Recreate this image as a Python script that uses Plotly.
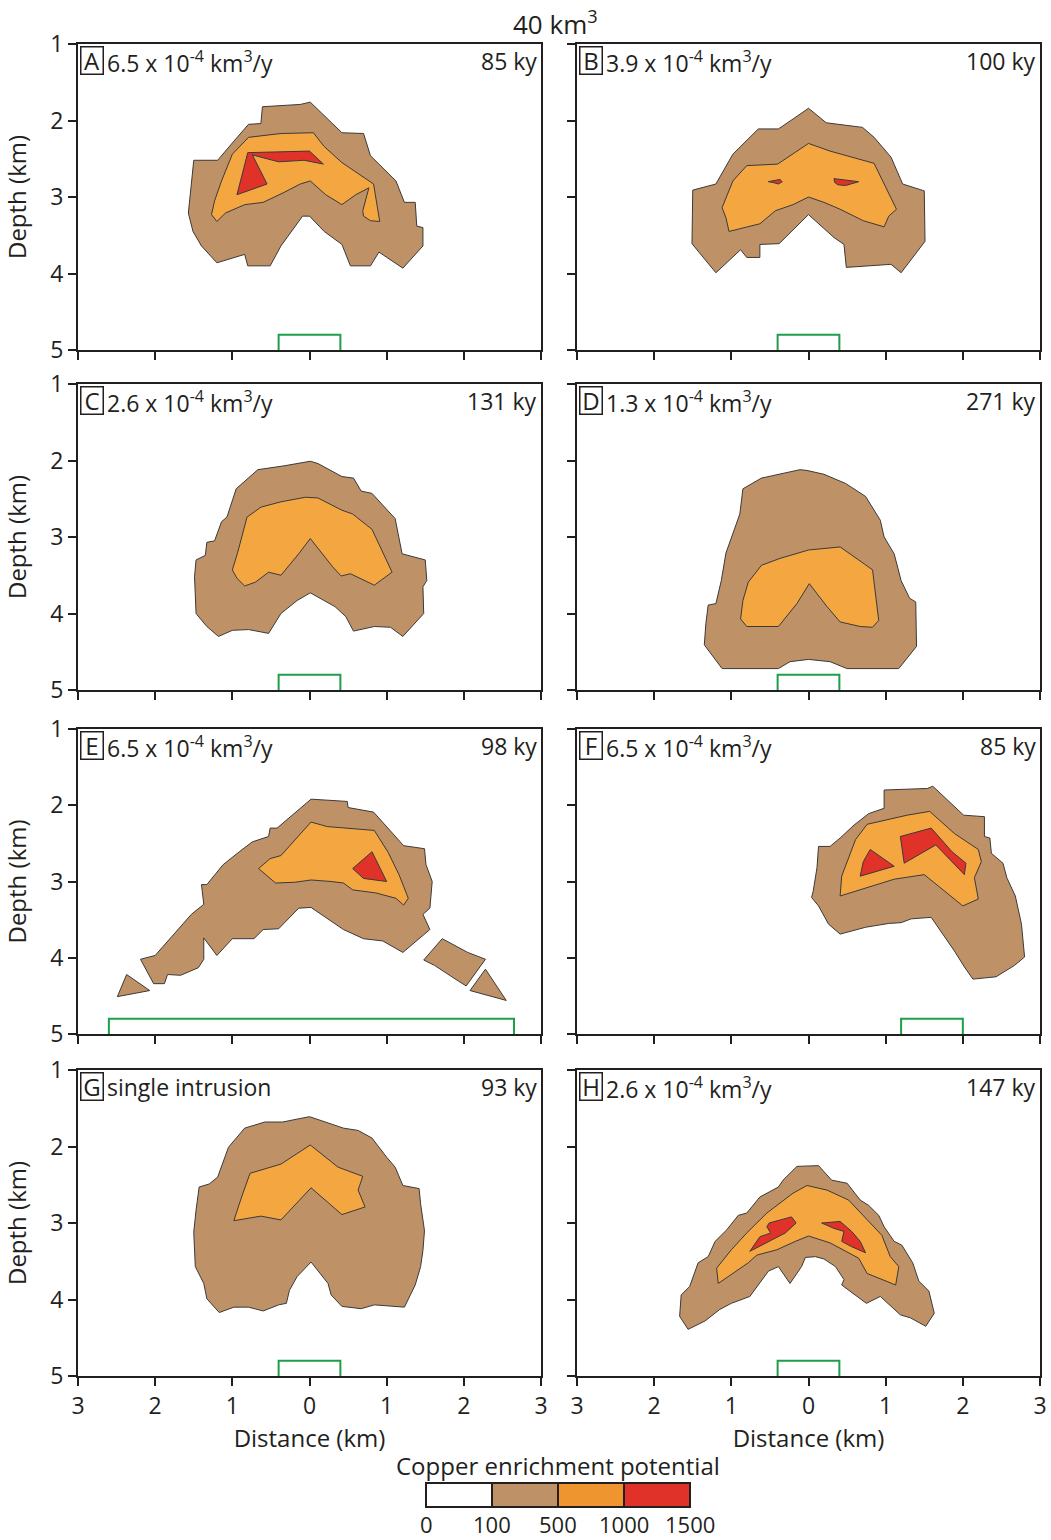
import plotly.graph_objects as go

# ---------------- data ----------------
LETTERS = ["A", "B", "C", "D", "E", "F", "G", "H"]
RATES = ["6.5 x 10<sup>-4</sup> km<sup>3</sup>/y", "3.9 x 10<sup>-4</sup> km<sup>3</sup>/y",
         "2.6 x 10<sup>-4</sup> km<sup>3</sup>/y", "1.3 x 10<sup>-4</sup> km<sup>3</sup>/y",
         "6.5 x 10<sup>-4</sup> km<sup>3</sup>/y", "6.5 x 10<sup>-4</sup> km<sup>3</sup>/y",
         "single intrusion", "2.6 x 10<sup>-4</sup> km<sup>3</sup>/y"]
AGES = ["85 ky", "100 ky", "131 ky", "271 ky", "98 ky", "85 ky", "93 ky", "147 ky"]
INTRUSION_X = [(-0.4, 0.4), (-0.4, 0.4), (-0.4, 0.4), (-0.4, 0.4),
               (-2.6, 2.65), (1.2, 2.0), (-0.4, 0.4), (-0.4, 0.4)]
INTRUSION_TOP = 4.8

LEVELS = [0, 100, 500, 1000, 1500]
LEVEL_COLORS = ["#FFFFFF", "#BF9167", "#F4A640", "#E1322A"]
LEGEND_COLORS = ["#FFFFFF", "#BF9167", "#EF9530", "#E1322A"]

X_TICKS = [-3, -2, -1, 0, 1, 2, 3]
X_TICKTEXT = ["3", "2", "1", "0", "1", "2", "3"]
Y_TICKS = [1, 2, 3, 4, 5]

# polygons: (distance km, depth km)
A_100 = [(-0.61, 1.82), (-0.12, 1.79), (0.01, 1.76), (0.42, 2.16), (0.70, 2.17), (0.79, 2.46), (1.12, 2.79),
         (1.23, 3.07), (1.37, 3.07), (1.39, 3.38), (1.47, 3.40), (1.47, 3.64), (1.21, 3.93), (0.90, 3.72),
         (0.79, 3.90), (0.53, 3.90), (0.42, 3.62), (0.19, 3.45), (0.00, 3.25), (-0.09, 3.25), (-0.37, 3.64),
         (-0.51, 3.90), (-0.80, 3.90), (-0.84, 3.75), (-1.20, 3.86), (-1.40, 3.64), (-1.51, 3.45),
         (-1.57, 3.21), (-1.50, 2.52), (-1.19, 2.52), (-0.98, 2.27), (-0.79, 2.05), (-0.63, 2.04)]
A_500 = [(-0.79, 2.22), (-0.37, 2.17), (0.05, 2.16), (0.19, 2.34), (0.42, 2.55), (0.72, 2.75), (0.83, 2.83),
         (0.91, 3.32), (0.79, 3.31), (0.70, 3.25), (0.69, 3.18), (0.77, 2.88), (0.60, 2.97), (0.42, 3.10),
         (0.21, 2.97), (0.01, 2.79), (-0.12, 2.83), (-0.33, 2.94), (-0.60, 3.07), (-0.84, 3.10),
         (-1.09, 3.21), (-1.20, 3.32), (-1.27, 3.23), (-1.23, 3.05), (-1.14, 2.79), (-1.00, 2.44)]
A_1000 = [(-0.80, 2.42), (0.00, 2.40), (0.18, 2.57), (-0.07, 2.52), (-0.40, 2.54), (-0.74, 2.45),
          (-0.55, 2.83), (-0.94, 2.97)]

B_100 = [(0.00, 1.84), (0.23, 2.03), (0.70, 2.09), (0.85, 2.22), (1.07, 2.48), (1.22, 2.83), (1.50, 2.92),
         (1.51, 3.58), (1.20, 3.99), (1.07, 3.88), (0.49, 3.92), (0.46, 3.62), (0.33, 3.53), (0.00, 3.23),
         (-0.38, 3.61), (-0.63, 3.62), (-0.63, 3.79), (-0.80, 3.79), (-0.88, 3.69), (-1.20, 3.99),
         (-1.51, 3.61), (-1.50, 2.91), (-1.20, 2.83), (-0.98, 2.44), (-0.65, 2.11), (-0.39, 2.11),
         (-0.20, 1.98)]
B_500 = [(0.00, 2.30), (0.28, 2.40), (0.85, 2.56), (1.00, 2.88), (1.14, 3.16), (1.04, 3.25), (0.98, 3.39),
         (0.71, 3.31), (0.41, 3.16), (0.20, 3.07), (0.00, 3.00), (-0.20, 3.10), (-0.43, 3.18), (-0.63, 3.35),
         (-1.03, 3.45), (-1.07, 3.27), (-1.12, 3.14), (-0.98, 2.79), (-0.80, 2.59), (-0.40, 2.57),
         (-0.20, 2.43)]
B_1000a = [(-0.52, 2.80), (-0.37, 2.77), (-0.34, 2.80), (-0.39, 2.83), (-0.46, 2.81)]
B_1000b = [(0.33, 2.76), (0.65, 2.80), (0.48, 2.85), (0.38, 2.84), (0.34, 2.81)]

C_100 = [(0.01, 2.01), (0.11, 2.04), (0.42, 2.21), (0.57, 2.23), (0.67, 2.40), (0.81, 2.43), (1.11, 2.76),
         (1.20, 3.22), (1.50, 3.30), (1.52, 3.57), (1.47, 3.65), (1.48, 4.00), (1.21, 4.30), (1.05, 4.18),
         (0.84, 4.17), (0.57, 4.23), (0.47, 4.04), (0.33, 3.91), (0.01, 3.73), (-0.16, 3.83), (-0.37, 4.00),
         (-0.53, 4.26), (-0.79, 4.21), (-1.00, 4.22), (-1.18, 4.30), (-1.33, 4.17), (-1.47, 4.00),
         (-1.49, 3.52), (-1.47, 3.30), (-1.35, 3.24), (-1.33, 3.07), (-1.23, 3.05), (-1.14, 2.80),
         (-1.07, 2.74), (-0.95, 2.37), (-0.67, 2.12), (-0.33, 2.07)]
C_500 = [(-0.05, 2.48), (0.11, 2.49), (0.42, 2.65), (0.56, 2.70), (0.81, 2.90), (1.07, 3.46), (0.84, 3.63),
         (0.53, 3.48), (0.41, 3.51), (0.30, 3.39), (0.01, 3.02), (-0.14, 3.22), (-0.37, 3.50), (-0.53, 3.46),
         (-0.70, 3.59), (-0.84, 3.64), (-0.94, 3.54), (-1.00, 3.43), (-0.93, 3.20), (-0.81, 2.74),
         (-0.63, 2.61), (-0.37, 2.54)]

D_100 = [(-0.11, 2.12), (-0.02, 2.13), (0.20, 2.18), (0.48, 2.30), (0.74, 2.47), (0.93, 2.78), (0.98, 3.00),
         (1.11, 3.22), (1.20, 3.57), (1.31, 3.80), (1.39, 3.85), (1.40, 4.43), (1.17, 4.72), (0.50, 4.72),
         (0.28, 4.63), (0.00, 4.60), (-0.24, 4.63), (-0.39, 4.72), (-1.12, 4.72), (-1.35, 4.41),
         (-1.33, 4.13), (-1.30, 3.89), (-1.20, 3.87), (-1.13, 3.57), (-1.07, 3.21), (-1.00, 3.02),
         (-0.89, 2.70), (-0.85, 2.37), (-0.61, 2.23)]
D_500 = [(0.00, 3.17), (0.41, 3.13), (0.72, 3.35), (0.83, 3.43), (0.91, 4.09), (0.83, 4.18), (0.67, 4.17),
         (0.41, 4.11), (0.24, 3.91), (0.01, 3.61), (-0.15, 3.87), (-0.39, 4.17), (-0.80, 4.17), (-0.88, 4.07),
         (-0.85, 3.83), (-0.78, 3.59), (-0.61, 3.37), (-0.37, 3.28)]

E_100 = [(0.02, 1.92), (0.49, 1.95), (0.50, 2.03), (0.83, 2.09), (1.22, 2.53), (1.49, 2.57), (1.51, 2.78),
         (1.59, 3.00), (1.56, 3.35), (1.47, 3.43), (1.56, 3.63), (1.21, 3.93), (0.95, 3.78), (0.70, 3.75),
         (0.44, 3.63), (0.02, 3.34), (-0.14, 3.35), (-0.40, 3.62), (-0.60, 3.63), (-0.72, 3.75),
         (-1.00, 3.75), (-1.20, 3.97), (-1.37, 3.74), (-1.37, 4.02), (-1.44, 4.13), (-1.67, 4.23),
         (-1.84, 4.22), (-1.88, 4.34), (-2.02, 4.34), (-2.19, 4.02), (-2.00, 3.97), (-1.53, 3.43),
         (-1.37, 3.30), (-1.40, 3.04), (-1.33, 3.04), (-1.12, 2.78), (-0.91, 2.61), (-0.74, 2.48),
         (-0.53, 2.41), (-0.51, 2.30), (-0.42, 2.30)]
E_100b = [(-2.49, 4.51), (-2.37, 4.22), (-2.07, 4.43)]
E_100c = [(1.72, 3.75), (2.05, 3.93), (2.28, 4.02), (2.03, 4.37), (1.86, 4.26), (1.62, 4.10), (1.48, 4.03)]
E_100d = [(2.08, 4.43), (2.28, 4.15), (2.55, 4.56)]
E_500 = [(0.02, 2.22), (0.23, 2.28), (0.84, 2.33), (1.02, 2.62), (1.16, 2.91), (1.28, 3.22), (1.22, 3.31),
         (1.12, 3.22), (0.86, 3.15), (0.56, 3.11), (0.44, 3.02), (0.28, 3.00), (0.02, 2.98), (-0.19, 3.01),
         (-0.44, 3.02), (-0.66, 2.83), (-0.51, 2.70), (-0.37, 2.66)]
E_1000 = [(0.81, 2.61), (1.00, 3.00), (0.70, 2.96), (0.56, 2.83)]

F_100 = [(0.98, 1.80), (1.54, 1.78), (1.61, 1.75), (2.01, 2.13), (2.28, 2.15), (2.28, 2.41), (2.35, 2.43),
         (2.37, 2.63), (2.52, 2.76), (2.57, 2.95), (2.68, 3.19), (2.76, 3.56), (2.80, 3.99), (2.67, 4.10),
         (2.43, 4.25), (2.13, 4.28), (2.02, 4.12), (1.89, 3.91), (1.59, 3.47), (1.33, 3.49), (1.20, 3.54),
         (1.04, 3.55), (0.74, 3.60), (0.41, 3.69), (0.26, 3.56), (0.13, 3.32), (0.04, 3.21), (0.06, 3.13),
         (0.11, 2.82), (0.13, 2.54), (0.28, 2.54), (0.41, 2.43), (0.59, 2.26), (0.78, 2.11), (0.98, 2.04)]
F_500 = [(0.76, 2.25), (1.28, 2.13), (1.57, 2.08), (1.89, 2.37), (2.20, 2.58), (2.24, 2.74), (2.15, 2.95),
         (2.20, 3.23), (2.00, 3.32), (1.50, 2.91), (1.11, 2.97), (0.41, 3.19), (0.43, 2.93), (0.52, 2.69),
         (0.61, 2.45)]
F_1000a = [(0.80, 2.58), (1.11, 2.80), (0.67, 2.93), (0.71, 2.74)]
F_1000b = [(1.19, 2.41), (1.59, 2.30), (1.86, 2.61), (2.04, 2.76), (2.02, 2.91), (1.65, 2.52), (1.24, 2.76)]

G_100 = [(0.00, 1.61), (0.44, 1.76), (0.63, 1.79), (0.81, 1.89), (1.00, 2.14), (1.11, 2.27), (1.21, 2.51),
         (1.42, 2.55), (1.44, 2.75), (1.49, 3.10), (1.47, 3.36), (1.44, 3.57), (1.37, 3.81), (1.23, 4.10),
         (0.84, 4.07), (0.67, 4.12), (0.42, 4.09), (0.28, 3.94), (0.24, 3.79), (0.02, 3.51), (-0.16, 3.70),
         (-0.26, 3.88), (-0.30, 4.05), (-0.40, 4.07), (-0.60, 4.15), (-0.79, 4.10), (-0.98, 4.10),
         (-1.17, 4.17), (-1.33, 3.99), (-1.37, 3.79), (-1.48, 3.57), (-1.50, 3.12), (-1.47, 2.83),
         (-1.43, 2.53), (-1.30, 2.49), (-1.19, 2.40), (-1.05, 2.01), (-0.84, 1.76), (-0.58, 1.68),
         (-0.35, 1.68)]
G_500 = [(0.01, 1.98), (0.37, 2.27), (0.69, 2.39), (0.63, 2.57), (0.72, 2.79), (0.42, 2.89), (0.02, 2.54),
         (-0.37, 2.96), (-0.63, 2.91), (-0.98, 2.97), (-0.88, 2.66), (-0.77, 2.35), (-0.37, 2.23)]

H_100 = [(-0.15, 2.26), (0.13, 2.25), (0.30, 2.44), (0.50, 2.48), (0.67, 2.70), (0.78, 2.77), (0.91, 2.90),
         (0.98, 3.05), (1.11, 3.24), (1.21, 3.29), (1.35, 3.52), (1.43, 3.76), (1.56, 3.89), (1.63, 4.18),
         (1.52, 4.35), (1.32, 4.24), (1.19, 4.20), (0.93, 3.96), (0.75, 4.05), (0.43, 3.81), (0.46, 3.74),
         (0.35, 3.57), (0.20, 3.47), (0.09, 3.44), (-0.04, 3.45), (-0.09, 3.57), (-0.24, 3.79),
         (-0.39, 3.57), (-0.52, 3.63), (-0.76, 3.96), (-1.00, 4.05), (-1.15, 4.13), (-1.34, 4.28),
         (-1.56, 4.39), (-1.67, 4.22), (-1.65, 3.94), (-1.54, 3.83), (-1.43, 3.52), (-1.30, 3.44),
         (-1.21, 3.24), (-1.06, 3.09), (-0.91, 2.90), (-0.80, 2.87), (-0.63, 2.66), (-0.39, 2.53),
         (-0.33, 2.44)]
H_500 = [(-0.02, 2.51), (0.24, 2.57), (0.52, 2.70), (0.76, 2.96), (0.95, 3.16), (1.06, 3.44), (1.17, 3.57),
         (1.13, 3.81), (0.76, 3.66), (0.65, 3.46), (0.28, 3.26), (0.00, 3.17), (-0.17, 3.24), (-0.41, 3.35),
         (-0.67, 3.42), (-0.78, 3.52), (-1.17, 3.79), (-1.19, 3.59), (-1.00, 3.35), (-0.80, 3.13),
         (-0.54, 2.87), (-0.20, 2.61)]
H_1000a = [(-0.51, 3.00), (-0.22, 2.92), (-0.16, 3.00), (-0.30, 3.13), (-0.76, 3.37), (-0.63, 3.18),
           (-0.49, 3.13), (-0.54, 3.05)]
H_1000b = [(0.17, 3.00), (0.41, 2.98), (0.56, 3.11), (0.67, 3.24), (0.74, 3.39), (0.56, 3.31), (0.43, 3.24),
           (0.46, 3.11), (0.33, 3.07)]

# (level index into LEVEL_COLORS, polygon)
PANEL_POLYS = [
    [(1, A_100), (2, A_500), (3, A_1000)],
    [(1, B_100), (2, B_500), (3, B_1000a), (3, B_1000b)],
    [(1, C_100), (2, C_500)],
    [(1, D_100), (2, D_500)],
    [(1, E_100), (1, E_100b), (1, E_100c), (1, E_100d), (2, E_500), (3, E_1000)],
    [(1, F_100), (2, F_500), (3, F_1000a), (3, F_1000b)],
    [(1, G_100), (2, G_500)],
    [(1, H_100), (2, H_500), (3, H_1000a), (3, H_1000b)],
]

# ---------------- layout geometry ----------------
W, H = 1051, 1540
COL_PX = [(78, 541), (577, 1040)]
ROW_PX = [(44, 350), (384, 690), (729, 1034), (1070, 1376)]
FONT = "Open Sans"
INK = "#231F20"


def px_x(p):
    return p / W


def px_y(p):
    return 1 - p / H


fig = go.Figure()
layout = dict(width=W, height=H, margin=dict(l=0, r=0, t=0, b=0),
              paper_bgcolor="white", plot_bgcolor="white", showlegend=False,
              font=dict(family=FONT, color=INK))
annotations = []
shapes = []

for i in range(8):
    r, c = divmod(i, 2)
    n = "" if i == 0 else str(i + 1)
    xa, ya = "x" + n, "y" + n
    x0p, x1p = COL_PX[c]
    y0p, y1p = ROW_PX[r]
    layout["xaxis" + n] = dict(
        domain=[px_x(x0p), px_x(x1p)], anchor=ya, range=[-3, 3],
        tickmode="array", tickvals=X_TICKS, ticktext=X_TICKTEXT,
        showticklabels=(r == 3), ticks="outside", ticklen=8, tickwidth=2, tickcolor=INK,
        showline=True, linewidth=2, linecolor=INK, mirror=True, showgrid=False, zeroline=False,
        tickfont=dict(size=23), automargin=False,
        title=dict(text="Distance (km)" if r == 3 else "", font=dict(size=24), standoff=2),
    )
    layout["yaxis" + n] = dict(
        domain=[px_y(y1p), px_y(y0p)], anchor=xa, range=[5, 1],
        tickmode="array", tickvals=Y_TICKS,
        showticklabels=(c == 0), ticks="outside", ticklen=8, tickwidth=2, tickcolor=INK,
        showline=True, linewidth=2, linecolor=INK, mirror=True, showgrid=False, zeroline=False,
        tickfont=dict(size=23), automargin=False,
        title=dict(text="Depth (km)" if c == 0 else "", font=dict(size=24), standoff=18),
    )
    for lvl, poly in PANEL_POLYS[i]:
        xs = [p[0] for p in poly] + [poly[0][0]]
        ds = [p[1] for p in poly] + [poly[0][1]]
        fig.add_trace(go.Scatter(x=xs, y=ds, xaxis=xa, yaxis=ya, mode="lines", fill="toself",
                                 fillcolor=LEVEL_COLORS[lvl], line=dict(color="#3A3A3A", width=1),
                                 hoverinfo="skip"))
    ix0, ix1 = INTRUSION_X[i]
    fig.add_trace(go.Scatter(x=[ix0, ix0, ix1, ix1], y=[5, INTRUSION_TOP, INTRUSION_TOP, 5],
                             xaxis=xa, yaxis=ya, mode="lines",
                             line=dict(color="#1E9E4A", width=2), hoverinfo="skip", cliponaxis=False))
    # panel labels
    annotations.append(dict(xref=xa + " domain", yref=ya + " domain", x=0.004, y=0.992,
                            xanchor="left", yanchor="top", text=LETTERS[i], showarrow=False,
                            width=21, height=26, align="center", valign="middle",
                            font=dict(size=24), bordercolor=INK, borderwidth=1.5, borderpad=0))
    annotations.append(dict(xref=xa + " domain", yref=ya + " domain", x=0.059, y=1.003,
                            xanchor="left", yanchor="top", text=RATES[i], showarrow=False,
                            font=dict(size=23)))
    annotations.append(dict(xref=xa + " domain", yref=ya + " domain", x=0.995, y=1.003,
                            xanchor="right", yanchor="top", text=AGES[i], showarrow=False,
                            font=dict(size=23)))

# title
annotations.append(dict(xref="paper", yref="paper", x=px_x(555), y=px_y(23), xanchor="center",
                        yanchor="middle", text="40 km<sup>3</sup>", showarrow=False, font=dict(size=26)))

# legend colour bar
LEG_X0, LEG_X1, LEG_Y0, LEG_Y1 = 426, 690, 1483, 1507
nseg = len(LEVEL_COLORS)
seg_w = (LEG_X1 - LEG_X0) / nseg
annotations.append(dict(xref="paper", yref="paper", x=px_x((LEG_X0 + LEG_X1) / 2), y=px_y(1465),
                        xanchor="center", yanchor="middle", text="Copper enrichment potential",
                        showarrow=False, font=dict(size=24)))
for k in range(nseg):
    shapes.append(dict(type="rect", xref="paper", yref="paper",
                       x0=px_x(LEG_X0 + k * seg_w), x1=px_x(LEG_X0 + (k + 1) * seg_w),
                       y0=px_y(LEG_Y1), y1=px_y(LEG_Y0),
                       fillcolor=LEGEND_COLORS[k], line=dict(color=INK, width=2)))
for k, lv in enumerate(LEVELS):
    annotations.append(dict(xref="paper", yref="paper", x=px_x(LEG_X0 + k * seg_w), y=px_y(1524),
                            xanchor="center", yanchor="middle", text=str(lv), showarrow=False,
                            font=dict(size=22)))

layout["annotations"] = annotations
layout["shapes"] = shapes
fig.update_layout(**layout)
fig.write_html("out.html", config={"displayModeBar": False},
               post_script="document.body.style.margin='0';document.body.style.overflow='hidden';")
